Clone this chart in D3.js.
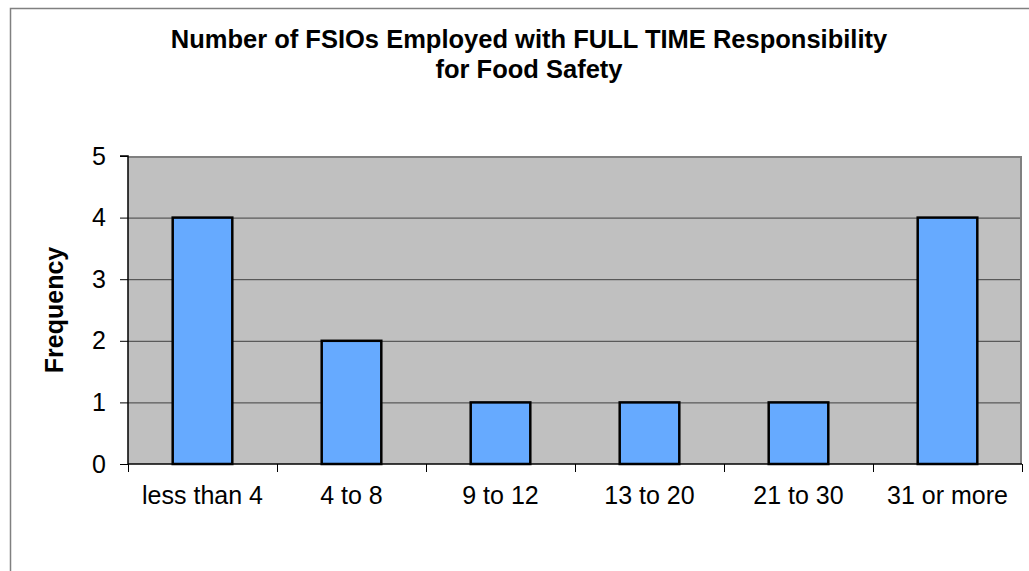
<!DOCTYPE html>
<html>
<head>
<meta charset="utf-8">
<style type="text/css">
body { margin: 0; background: #fff; }
text { font-family: 'Liberation Sans', Arial, Helvetica, sans-serif; }
</style>
</head>
<body>
<script src="https://d3js.org/d3.v7.min.js"></script>
<script type="text/javascript">

// chart data
const categories = ['less than 4', '4 to 8', '9 to 12', '13 to 20', '21 to 30', '31 or more'];
const frequency = [4, 2, 1, 1, 1, 4];
const yTicks = [0, 1, 2, 3, 4, 5];
const titleLines = ['Number of FSIOs Employed with FULL TIME Responsibility', 'for Food Safety'];

const W = 1029, H = 571;
const plot = {left: 128, top: 156, right: 1022, bottom: 464};

const svg = d3.select('body').append('svg')
    .attr('width', W)
    .attr('height', H);

// outer chart frame (runs off the right and bottom edge)
svg.append('rect')
    .attr('x', 10.5).attr('y', 8.5)
    .attr('width', 1100).attr('height', 700)
    .attr('fill', 'none')
    .attr('stroke', '#808080')
    .attr('stroke-width', 1.5);

const x = d3.scaleBand()
    .domain(categories)
    .range([plot.left, plot.right])
    .paddingInner(0.6)
    .paddingOuter(0.3);

const y = d3.scaleLinear()
    .domain([0, 5])
    .range([plot.bottom, plot.top]);

// plot background
svg.append('rect')
    .attr('x', plot.left).attr('y', plot.top)
    .attr('width', plot.right - plot.left)
    .attr('height', plot.bottom - plot.top)
    .attr('fill', '#C0C0C0');

// gridlines
svg.selectAll('.grid')
    .data(yTicks.filter(d => d > 0 && d < 5))
  .enter().append('line')
    .attr('x1', plot.left).attr('x2', plot.right)
    .attr('y1', d => y(d) + 0.5).attr('y2', d => y(d) + 0.5)
    .attr('stroke', '#404040')
    .attr('stroke-width', 1);

// gray top / right border
svg.append('path')
    .attr('d', `M${plot.left},${plot.top + 1}H${plot.right - 1}V${plot.bottom}`)
    .attr('fill', 'none')
    .attr('stroke', '#808080')
    .attr('stroke-width', 2);

// bars
svg.selectAll('.bar')
    .data(frequency)
  .enter().append('rect')
    .attr('class', 'bar')
    .attr('x', (d, i) => x(categories[i]))
    .attr('width', x.bandwidth())
    .attr('y', d => y(d))
    .attr('height', d => y(0) - y(d))
    .attr('fill', '#66AAFF')
    .attr('stroke', '#000')
    .attr('stroke-width', 2.5);

// y axis
const yAxis = d3.axisLeft(y)
    .tickValues(yTicks)
    .tickSize(8)
    .tickPadding(14)
    .tickFormat(d3.format('d'));

const gy = svg.append('g')
    .attr('transform', `translate(${plot.left},0)`)
    .call(yAxis);
gy.select('.domain').attr('d', `M-8,${plot.top}H0V${plot.bottom}`).attr('stroke-width', 1.5);
gy.selectAll('.tick line').attr('stroke', '#000');
gy.selectAll('.tick text')
    .attr('font-size', '25px')
    .attr('fill', '#000')
    .attr('font-family', 'Liberation Sans, Arial, sans-serif');

// x axis: ticks between categories
const step = x.step();
const bounds = d3.range(categories.length + 1).map(i => plot.left + i * step);

svg.append('line')
    .attr('x1', plot.left).attr('x2', plot.right)
    .attr('y1', plot.bottom).attr('y2', plot.bottom)
    .attr('stroke', '#000')
    .attr('stroke-width', 1.5);

svg.selectAll('.xtick')
    .data(bounds)
  .enter().append('line')
    .attr('x1', d => Math.round(d) + 0.5).attr('x2', d => Math.round(d) + 0.5)
    .attr('y1', plot.bottom).attr('y2', plot.bottom + 8)
    .attr('stroke', '#000');

svg.selectAll('.xlabel')
    .data(categories)
  .enter().append('text')
    .attr('x', d => x(d) + x.bandwidth() / 2)
    .attr('y', 504)
    .attr('text-anchor', 'middle')
    .attr('font-size', '25px')
    .text(d => d);

// y title
svg.append('text')
    .attr('transform', 'translate(63,310) rotate(-90)')
    .attr('text-anchor', 'middle')
    .attr('font-size', '25px')
    .attr('font-weight', 'bold')
    .text('Frequency');

// chart title
svg.selectAll('.title')
    .data(titleLines)
  .enter().append('text')
    .attr('x', 529)
    .attr('y', (d, i) => 48 + i * 30)
    .attr('text-anchor', 'middle')
    .attr('font-size', '25.5px')
    .attr('font-weight', 'bold')
    .text(d => d);

</script>
</body>
</html>
